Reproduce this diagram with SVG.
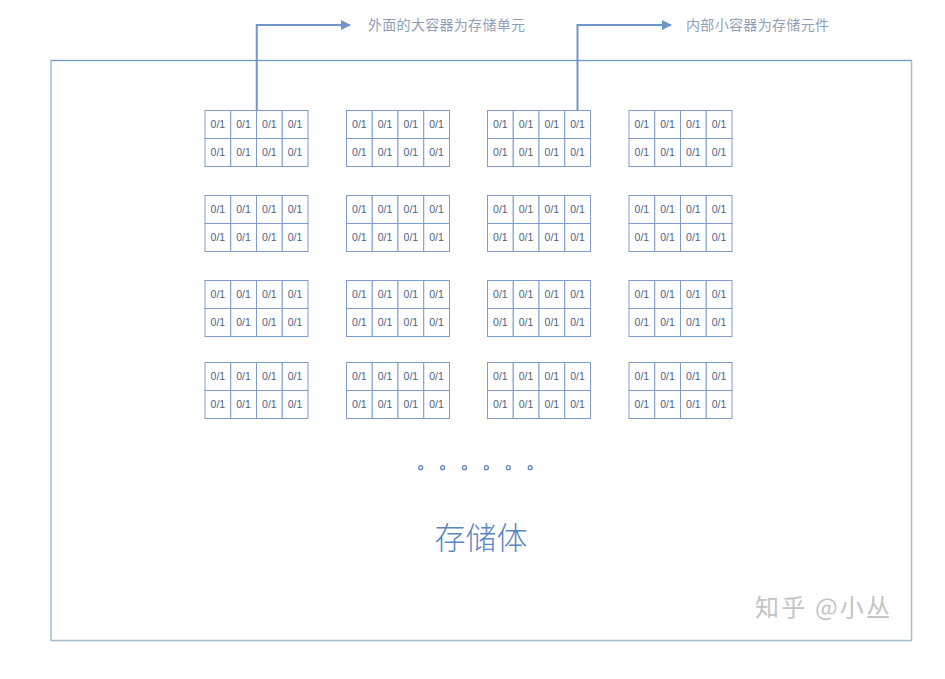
<svg xmlns="http://www.w3.org/2000/svg" xmlns:xlink="http://www.w3.org/1999/xlink" width="945" height="679" viewBox="0 0 945 679">
<style>
.cell{fill:#ffffff;stroke:#7e9dcc;stroke-width:1}
.bit{font-family:"Liberation Sans","DejaVu Sans",sans-serif;font-size:10.5px;fill:#4d5f82;text-anchor:middle}
.note{font-family:"Noto Sans CJK SC","DejaVu Sans",sans-serif;font-size:14px;fill:#8f9fba}
.conn{fill:none;stroke:#6f95c9;stroke-width:2}
.dot{fill:#ffffff;stroke:#5b82c0;stroke-width:1.2}
</style>
<defs>
<marker id="ah" viewBox="0 0 10 10" refX="9" refY="5" markerWidth="5" markerHeight="5" orient="auto" markerUnits="strokeWidth">
<path d="M0,0 L10,5 L0,10 z" fill="#6f95c9"/>
</marker>
<g id="blk">
<rect class="cell" x="0" y="0" width="25.75" height="28"/>
<rect class="cell" x="25.75" y="0" width="25.75" height="28"/>
<rect class="cell" x="51.5" y="0" width="25.75" height="28"/>
<rect class="cell" x="77.25" y="0" width="25.75" height="28"/>
<rect class="cell" x="0" y="28" width="25.75" height="28"/>
<rect class="cell" x="25.75" y="28" width="25.75" height="28"/>
<rect class="cell" x="51.5" y="28" width="25.75" height="28"/>
<rect class="cell" x="77.25" y="28" width="25.75" height="28"/>
<text class="bit" x="12.9" y="17.8">0/1</text>
<text class="bit" x="38.6" y="17.8">0/1</text>
<text class="bit" x="64.4" y="17.8">0/1</text>
<text class="bit" x="90.1" y="17.8">0/1</text>
<text class="bit" x="12.9" y="45.8">0/1</text>
<text class="bit" x="38.6" y="45.8">0/1</text>
<text class="bit" x="64.4" y="45.8">0/1</text>
<text class="bit" x="90.1" y="45.8">0/1</text>
</g>
</defs>
<rect x="0" y="0" width="945" height="679" fill="#ffffff"/>
<g id="storage">
<rect x="51" y="60.5" width="860.5" height="580" fill="#ffffff" stroke="#9ec0d2" stroke-width="1.5"/>
<line x1="51" y1="60.5" x2="911.5" y2="60.5" stroke="#6f9cc4" stroke-width="1.2"/>
</g>
<g id="b11"><use xlink:href="#blk" x="205" y="110.5"/></g>
<g id="b12"><use xlink:href="#blk" x="346.5" y="110.5"/></g>
<g id="b13"><use xlink:href="#blk" x="487.5" y="110.5"/></g>
<g id="b14"><use xlink:href="#blk" x="629" y="110.5"/></g>
<g id="b21"><use xlink:href="#blk" x="205" y="195.5"/></g>
<g id="b22"><use xlink:href="#blk" x="346.5" y="195.5"/></g>
<g id="b23"><use xlink:href="#blk" x="487.5" y="195.5"/></g>
<g id="b24"><use xlink:href="#blk" x="629" y="195.5"/></g>
<g id="b31"><use xlink:href="#blk" x="205" y="280.5"/></g>
<g id="b32"><use xlink:href="#blk" x="346.5" y="280.5"/></g>
<g id="b33"><use xlink:href="#blk" x="487.5" y="280.5"/></g>
<g id="b34"><use xlink:href="#blk" x="629" y="280.5"/></g>
<g id="b41"><use xlink:href="#blk" x="205" y="362.5"/></g>
<g id="b42"><use xlink:href="#blk" x="346.5" y="362.5"/></g>
<g id="b43"><use xlink:href="#blk" x="487.5" y="362.5"/></g>
<g id="b44"><use xlink:href="#blk" x="629" y="362.5"/></g>
<g id="connectors">
<path class="conn" d="M256.75,110 L256.75,25 L350,25" marker-end="url(#ah)"/>
<path class="conn" d="M577.5,110 L577.5,25 L671,25" marker-end="url(#ah)"/>
</g>
<g id="labels">
<text class="note" x="368" y="30" textLength="157">外面的大容器为存储单元</text>
<text class="note" x="686" y="30" textLength="143">内部小容器为存储元件</text>
</g>
<g id="dots">
<circle class="dot" cx="420.7" cy="467.7" r="2"/>
<circle class="dot" cx="442.6" cy="467.7" r="2"/>
<circle class="dot" cx="464.5" cy="467.7" r="2"/>
<circle class="dot" cx="486.4" cy="467.7" r="2"/>
<circle class="dot" cx="508.3" cy="467.7" r="2"/>
<circle class="dot" cx="530.2" cy="467.7" r="2"/>
</g>
<text x="481" y="549" font-family="Noto Sans CJK SC,DejaVu Sans,sans-serif" font-size="31" fill="#5b86c5" text-anchor="middle" font-weight="300">存储体</text>
<text x="755" y="616" font-family="Noto Sans CJK SC,DejaVu Sans,sans-serif" font-size="24" fill="#c4c4c4" textLength="135">知乎 @小丛</text>
</svg>
